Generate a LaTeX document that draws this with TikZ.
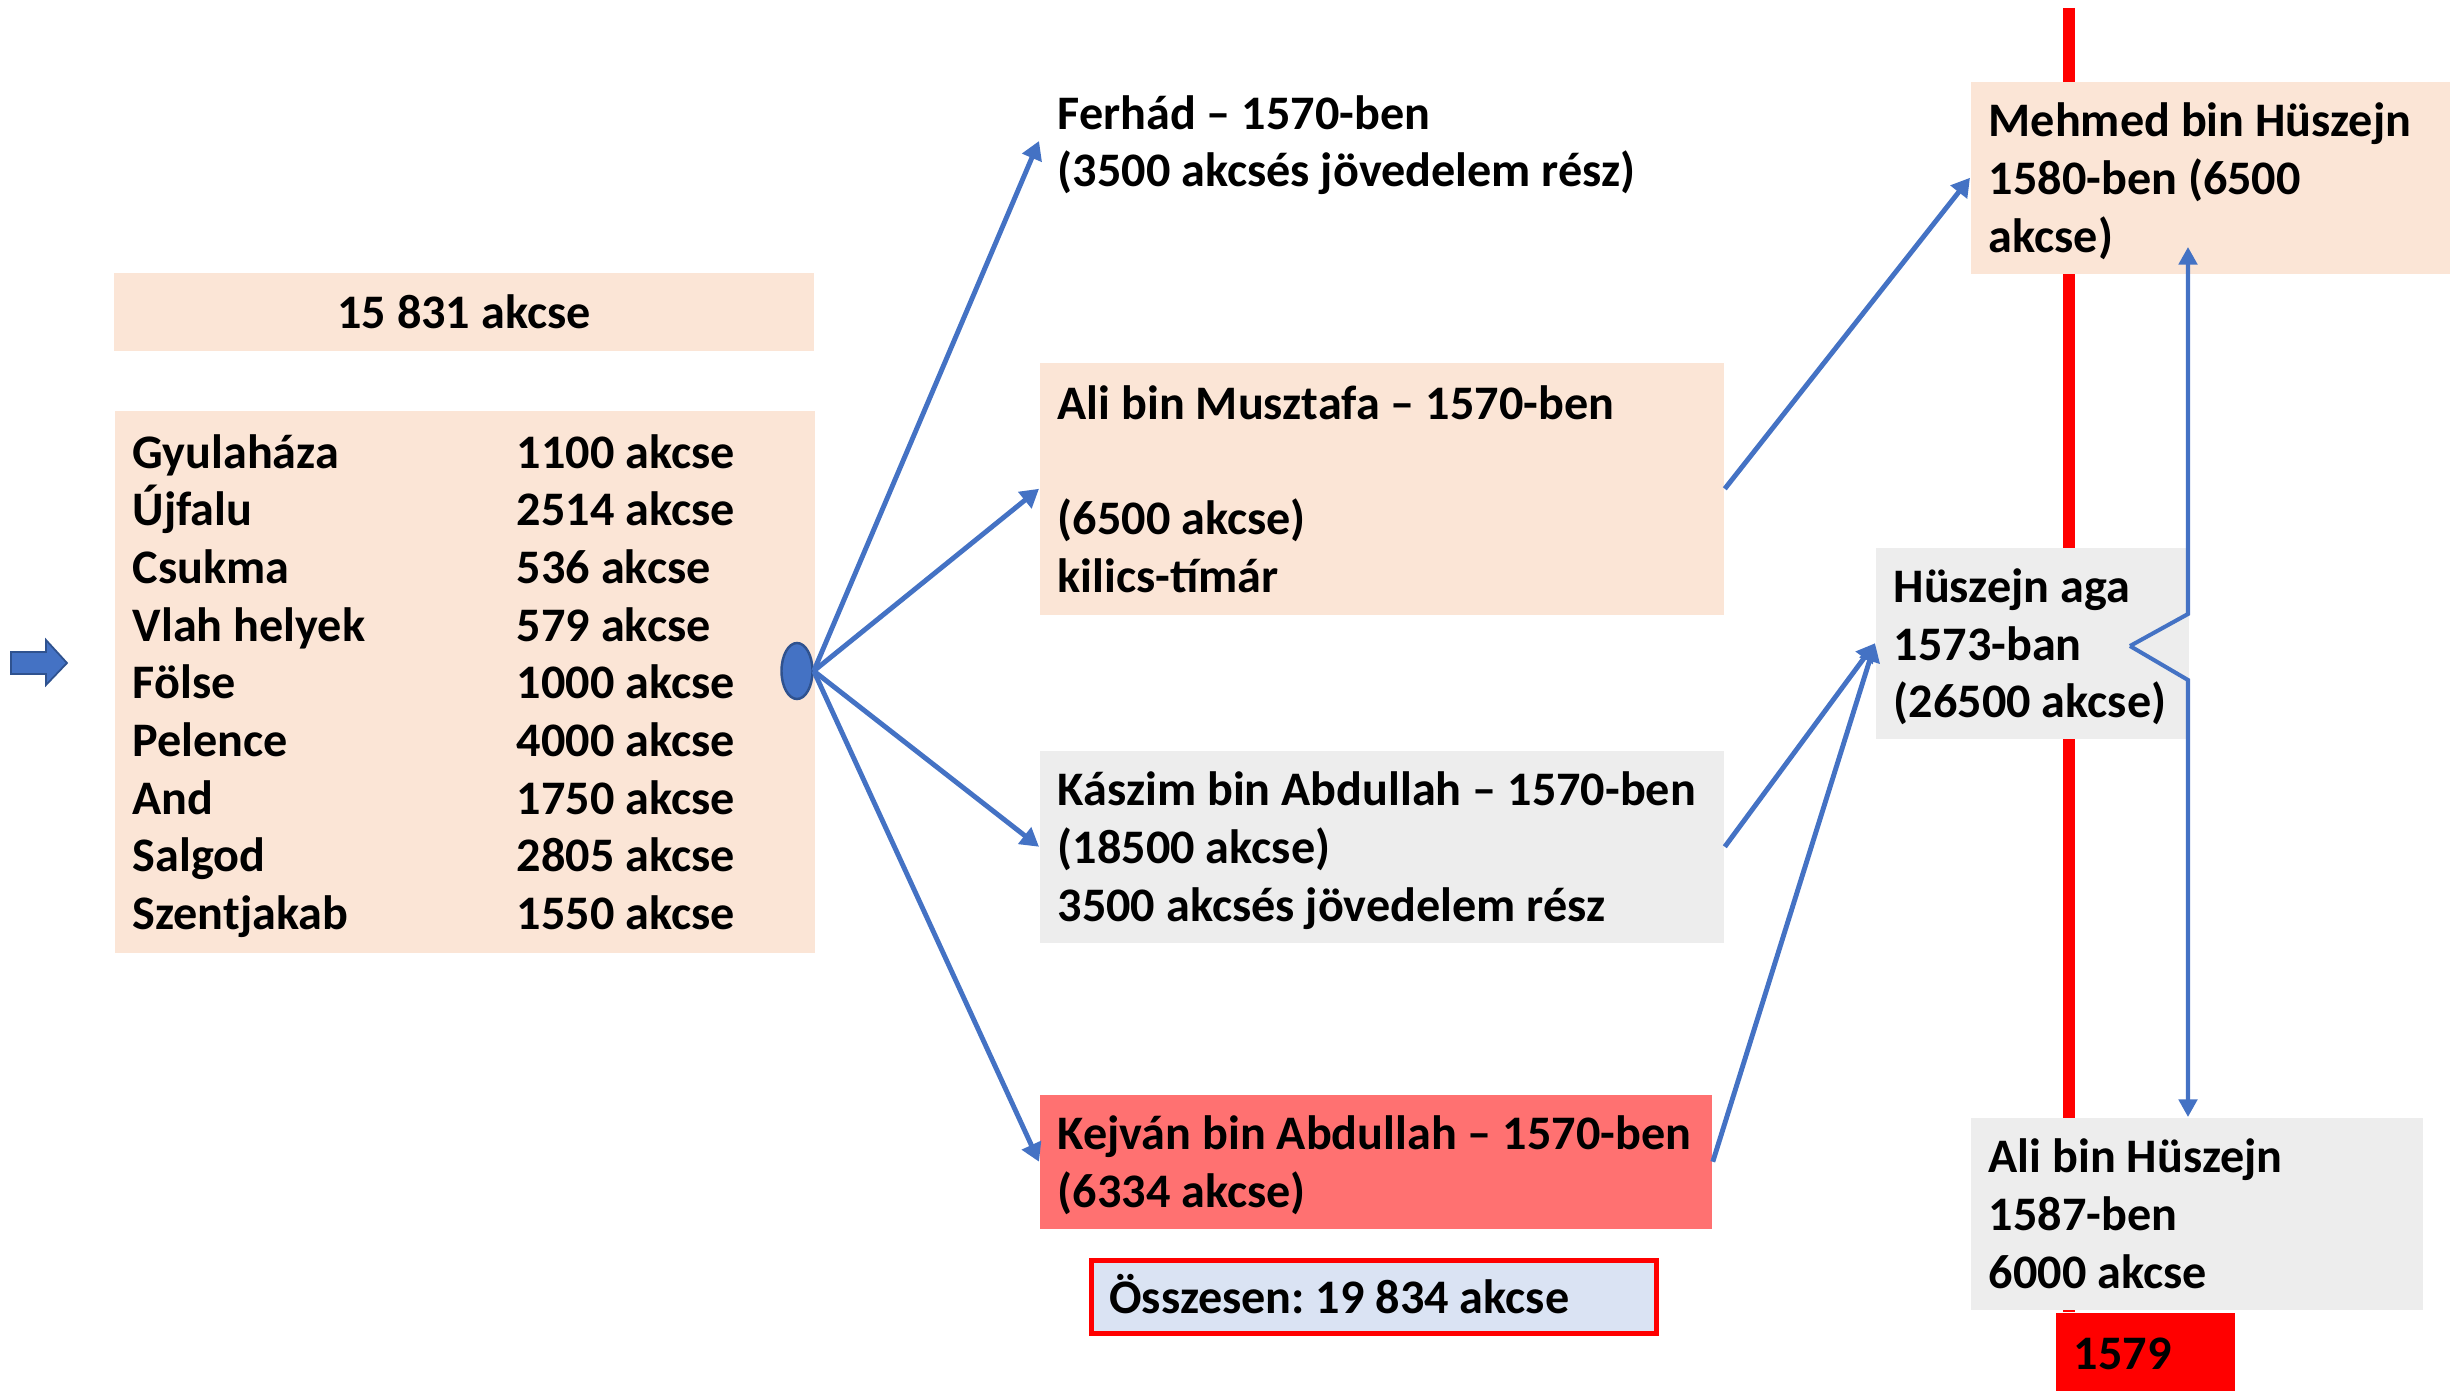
\documentclass[tikz,border=0pt]{standalone}
\usepackage{fontspec}
\setmainfont{Carlito}
\usetikzlibrary{shapes.geometric,arrows.meta}
\definecolor{peach}{HTML}{FBE5D6}
\definecolor{boxgray}{HTML}{EDEDED}
\definecolor{kejvanred}{HTML}{FF7171}
\definecolor{paleblue}{HTML}{DAE3F3}
\definecolor{arrowblue}{HTML}{4472C4}
\definecolor{darkblue}{HTML}{2F528F}

\begin{document}
\begin{tikzpicture}[x=0.01cm,y=-0.01cm,
    box/.style={rectangle,inner xsep=0.18cm,inner ysep=0pt,align=flush left,
        font=\fontsize{13.7}{16.4}\selectfont\bfseries\frenchspacing,
        execute at begin node={\rule{0pt}{13pt}},execute at end node={\rule[-3.4pt]{0pt}{3.4pt}}},
    link/.style={arrowblue,line width=1.4pt,-{Triangle[length=5.2pt,width=5.8pt]}},
    slim/.style={arrowblue,line width=1.15pt,-{Triangle[length=5pt,width=5.2pt]}}]
    \useasboundingbox (0,0) rectangle (2450,1391);

    \coordinate (RedTop) at (2069,8);
    \coordinate (RedBottom) at (2069,1312);
    \draw[red,line width=3.4pt] (RedTop) -- (RedBottom);

    \fill[arrowblue,draw=darkblue,line width=0.5pt] (11,652) -- (46,652) -- (46,640) -- (67,663)
        -- (46,685) -- (46,674) -- (11,674) -- cycle;

    \node[box,fill=peach,minimum width=7cm,minimum height=0.77cm,align=center] (Total) at (464,312) {15 831 akcse};
    \node[box,fill=peach,text width=6.64cm,minimum height=5.42cm,anchor=west] (Villages) at (114,682) {%
        \begin{tabular}{@{}p{3.84cm}@{}l@{}}
        Gyulaháza\rule{0pt}{14.5pt} & 1100 akcse\\
        Újfalu & 2514 akcse\\
        Csukma & 536 akcse\\
        Vlah helyek & 579 akcse\\
        Fölse & 1000 akcse\\
        Pelence & 4000 akcse\\
        And & 1750 akcse\\
        Salgod & 2805 akcse\\
        Szentjakab & 1550 akcse
        \end{tabular}};
    \node[ellipse,fill=arrowblue,draw=darkblue,line width=0.7pt,minimum width=0.31cm,
        minimum height=0.56cm,inner sep=0pt] (Split) at (797,671) {};

    \node[box,text width=6.48cm,minimum height=1.3cm,anchor=west] (Ferhad) at (1039,141)
        {Ferhád – 1570-ben\\(3500 akcsés jövedelem rész)};
    \node[box,fill=peach,text width=6.48cm,minimum height=2.52cm,anchor=north west] (Ali) at (1039,362)
        {Ali bin Musztafa – 1570-ben\\ \strut\\(6500 akcse)\\kilics-tímár};
    \node[box,fill=boxgray,text width=6.48cm,minimum height=1.92cm,anchor=north west] (Kaszim) at (1039,750)
        {Kászim bin Abdullah – 1570-ben\\(18500 akcse)\\3500 akcsés jövedelem rész};
    \node[box,fill=kejvanred,text width=6.36cm,minimum height=1.34cm,anchor=north west] (Kejvan) at (1039,1094)
        {Kejván bin Abdullah – 1570-ben\\(6334 akcse)};
    \node[box,fill=paleblue,draw=red,line width=1.4pt,text width=5.29cm,minimum height=0.73cm] (Total2) at (1374,1297)
        {Összesen: 19 834 akcse};

    \node[box,fill=peach,text width=4.44cm,minimum height=1.92cm,anchor=north west] (Mehmed) at (1970,81)
        {Mehmed bin Hüszejn\\1580-ben (6500\\akcse)};
    \node[box,fill=boxgray,text width=2.77cm,minimum height=1.91cm,anchor=north west] (Huszejn) at (1875,547)
        {Hüszejn aga\\1573-ban\\(26500 akcse)};
    \node[box,fill=boxgray,text width=4.16cm,minimum height=1.92cm,anchor=north west] (AliH) at (1970,1117)
        {Ali bin Hüszejn\\1587-ben\\6000 akcse};
    \node[box,fill=red,text width=1.43cm,minimum height=0.79cm,anchor=north west] (Year) at (2055,1312) {1579};

    \draw[link] (Split.east) -- (Ferhad.west);
    \draw[link] (Split.east) -- (Ali.west);
    \draw[link] (Split.east) -- (Kaszim.west);
    \draw[link] (Split.east) -- (Kejvan.west);
    \draw[link] (Ali.east) -- (Mehmed.west);
    \draw[link] (Kaszim.east) -- (Huszejn.west);
    \draw[link] (Kejvan.east) -- (Huszejn.west);

    \coordinate (Notch) at (2130,646);
    \coordinate (Up) at (2188,247);
    \draw[slim] (Notch) -- (2188,614) -- (Up);
    \draw[slim] (Notch) -- (2188,680) -- (Up |- AliH.north);
\end{tikzpicture}
\end{document}
